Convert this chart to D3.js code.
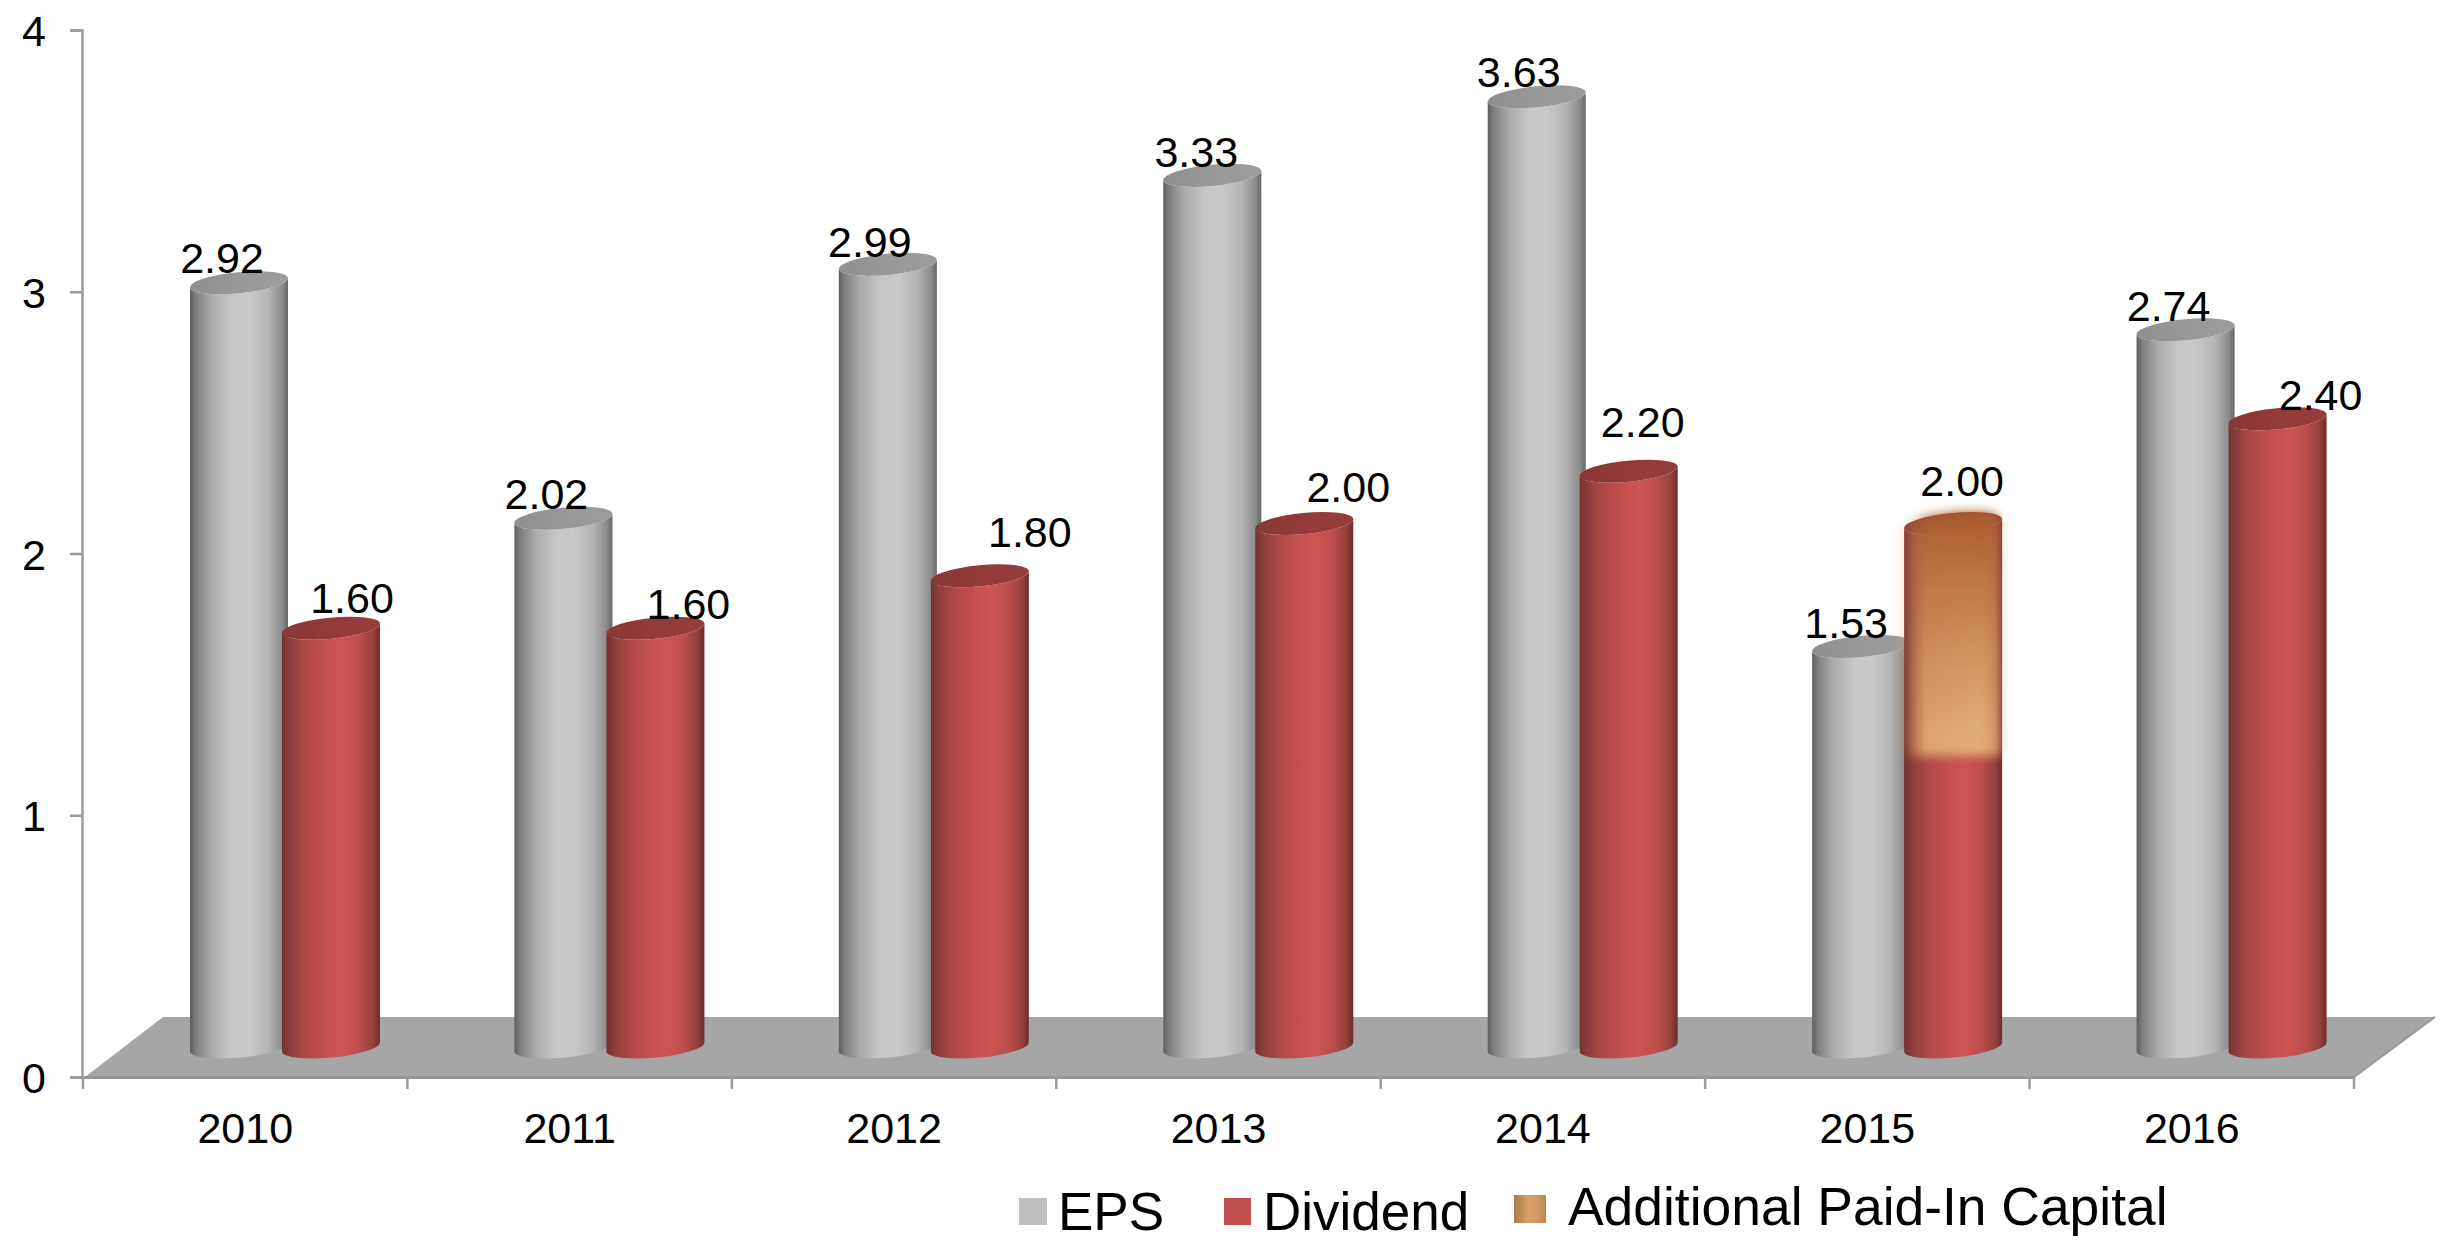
<!DOCTYPE html>
<html>
<head>
<meta charset="utf-8">
<script src="https://cdn.jsdelivr.net/npm/d3@7"></script>
<style>
  html, body { margin: 0; padding: 0; background: #fff; }
  svg { display: block; }
  text { font-family: "Liberation Sans", Arial, sans-serif; fill: #000; }
</style>
</head>
<body>
<script>
// Per-share figures by year
const years = ["2010", "2011", "2012", "2013", "2014", "2015", "2016"];
const eps = [2.92, 2.02, 2.99, 3.33, 3.63, 1.53, 2.74];
const dividend = [1.60, 1.60, 1.80, 2.00, 2.20, 2.00, 2.40];
// Portion of the 2015 payout funded from additional paid-in capital
const capitalYear = "2015";
const capitalFrom = 1.115;
const capitalTo = 2.00;
const yTicks = [0, 1, 2, 3, 4];
const legendNames = ["EPS", "Dividend", "Additional Paid-In Capital"];

// Hand-placed data label offsets from the top centre of each cylinder
const epsLabelNudge = [[-17, -10], [-17, -9], [-18, -7], [-16, -8], [-18, -10], [-15, -9], [-17, -9]];
const dividendLabelNudge = [[21, -15], [33, -9], [50, -29], [44, -22], [14, -34], [9, -28], [43, -9]];

const W = 2446, H = 1241;
const svg = d3.select("body").append("svg").attr("width", W).attr("height", H);
const defs = svg.append("defs");

function hGradient(id, stops) {
  const g = defs.append("linearGradient").attr("id", id)
    .attr("x1", 0).attr("x2", 1).attr("y1", 0).attr("y2", 0);
  stops.forEach(([o, c]) => g.append("stop").attr("offset", o).attr("stop-color", c));
}
hGradient("epsBody", [[0, "#5e5e5e"], [0.06, "#7f7f7f"], [0.22, "#ababab"], [0.42, "#c6c6c6"], [0.6, "#c9c9c9"], [0.8, "#b4b4b4"], [0.94, "#8c8c8c"], [1, "#666"]]);
hGradient("divBody", [[0, "#733230"], [0.08, "#8c3d3a"], [0.25, "#b04a47"], [0.5, "#c8514f"], [0.62, "#cc5553"], [0.8, "#ba4d4a"], [0.93, "#93403d"], [1, "#6f2d2b"]]);
hGradient("epsTop", [[0, "#8f8f8f"], [0.5, "#989898"], [1, "#9c9c9c"]]);
hGradient("divTop", [[0, "#8a3735"], [0.5, "#933b39"], [1, "#963d3b"]]);
hGradient("legendCap", [[0, "#a87a4c"], [0.45, "#d9a06c"], [0.7, "#d49a66"], [1, "#be8450"]]);

const capV = defs.append("linearGradient").attr("id", "capBody")
  .attr("x1", 0).attr("x2", 0).attr("y1", 0).attr("y2", 1);
[[0, "#a65a28"], [0.3, "#bf7a43"], [0.65, "#d39a63"], [0.92, "#e0ae78"], [1, "#e0ae78"]]
  .forEach(([o, c]) => capV.append("stop").attr("offset", o).attr("stop-color", c));

const capFade = defs.append("linearGradient").attr("id", "capFade")
  .attr("x1", 0).attr("x2", 1).attr("y1", 0).attr("y2", 0);
[[0, 0], [0.06, 0.12], [0.22, 0.85], [0.78, 1], [0.92, 0.75], [1, 0.4]]
  .forEach(([o, a]) => capFade.append("stop").attr("offset", o).attr("stop-color", "#fff").attr("stop-opacity", a));

defs.append("filter").attr("id", "capSoft").attr("x", "-20%").attr("y", "-10%").attr("width", "140%").attr("height", "120%")
  .append("feGaussianBlur").attr("stdDeviation", 5);
defs.append("filter").attr("id", "capGlow").attr("x", "-30%").attr("y", "-15%").attr("width", "160%").attr("height", "130%")
  .append("feGaussianBlur").attr("stdDeviation", 7);

// Scales
const axisY = 1077, depth = 30;
const y = d3.scaleLinear().domain([0, 4]).range([axisY, 30]);
const x = d3.scaleBand().domain(years).range([83, 2354]).paddingInner(0).paddingOuter(0);
const barW = 98;
const seriesOffset = { eps: 107, div: 199 };

// Floor plane
const floorBack = axisY - 60;
svg.append("path")
  .attr("d", d3.line()([[x.range()[0] + 2, axisY], [163, floorBack], [2435, floorBack], [x.range()[1], axisY]]) + "Z")
  .attr("fill", "#a6a6a6");
svg.append("path")
  .attr("d", d3.line()([[x.range()[1], axisY], [2435, floorBack]]))
  .attr("stroke", "#969696").attr("stroke-width", 2).attr("fill", "none");

// Axes
const axisColor = "#9c9c9c";
const tickFont = 43;
const yAxis = svg.append("g").attr("transform", "translate(82,0)")
  .call(d3.axisLeft(y).tickValues(yTicks).tickFormat(d3.format("d")).tickSize(12).tickPadding(25));
yAxis.selectAll("path,line").attr("stroke", axisColor).attr("stroke-width", 2.5);
yAxis.selectAll("text").attr("font-size", tickFont).attr("text-anchor", "middle").attr("x", -48)
  .attr("dy", 15.5).style("font-family", '"Liberation Sans"');

const xAxis = svg.append("g").attr("transform", `translate(0,${axisY})`)
  .call(d3.axisBottom(x).tickSize(0).tickPadding(0).tickSizeOuter(0));
xAxis.select("path").attr("stroke", "#969696").attr("stroke-width", 3);
xAxis.selectAll("text").attr("font-size", tickFont).attr("y", 66).attr("dy", 0).style("font-family", '"Liberation Sans"');

svg.append("g").selectAll("line")
  .data(d3.range(years.length + 1))
  .join("line")
  .attr("x1", i => x.range()[0] + i * x.step())
  .attr("x2", i => x.range()[0] + i * x.step())
  .attr("y1", axisY).attr("y2", axisY + 12)
  .attr("stroke", axisColor).attr("stroke-width", 2.5);

// Cylinders: tilted elliptical caps give the perspective look
const rx = barW / 2, ry = 10.5, tilt = 5.5;
const dyEnd = rx * Math.sin(tilt * Math.PI / 180);
const base = axisY - depth;
const yTop = v => y(v) - depth;

function cylinderBody(cx, topY) {
  const l = cx - rx, r = cx + rx;
  return `M${l},${topY + dyEnd}L${l},${base + dyEnd}` +
    `A${rx},${ry} ${-tilt} 0 0 ${r},${base - dyEnd}` +
    `L${r},${topY - dyEnd}` +
    `A${rx},${ry} ${-tilt} 0 1 ${l},${topY + dyEnd}Z`;
}
function cap(cx, topY) {
  const l = cx - rx, r = cx + rx;
  return `M${l},${topY + dyEnd}A${rx},${ry} ${-tilt} 1 1 ${r},${topY - dyEnd}` +
    `A${rx},${ry} ${-tilt} 1 1 ${l},${topY + dyEnd}Z`;
}

const rows = years.map((yr, i) => ({ yr, i, eps: eps[i], div: dividend[i] }));
const groups = svg.append("g").selectAll("g").data(rows).join("g");

groups.append("path")
  .attr("d", d => cylinderBody(x(d.yr) + seriesOffset.eps + rx, yTop(d.eps)))
  .attr("fill", "url(#epsBody)");
groups.append("path")
  .attr("d", d => cap(x(d.yr) + seriesOffset.eps + rx, yTop(d.eps)))
  .attr("fill", "url(#epsTop)");
groups.append("path")
  .attr("d", d => cylinderBody(x(d.yr) + seriesOffset.div + rx, yTop(d.div)))
  .attr("fill", "url(#divBody)");
groups.append("path")
  .attr("d", d => cap(x(d.yr) + seriesOffset.div + rx, yTop(d.div)))
  .attr("fill", "url(#divTop)");

// Additional paid-in capital highlight on the 2015 dividend cylinder
const capCx = x(capitalYear) + seriesOffset.div + rx;
const capL = capCx - rx, capR = capCx + rx;
const capTopY = yTop(capitalTo), capBotY = yTop(capitalFrom);
const capShape =
  `M${capL},${capTopY + dyEnd}` +
  `A${rx},${ry} ${-tilt} 1 1 ${capR},${capTopY - dyEnd}` +
  `L${capR},${capBotY}L${capL},${capBotY}Z`;

const capMask = defs.append("mask").attr("id", "capMask").attr("maskUnits", "userSpaceOnUse")
  .attr("x", capL - 20).attr("y", capTopY - 30).attr("width", barW + 40).attr("height", capBotY - capTopY + 60);
capMask.append("rect")
  .attr("x", capL).attr("width", barW)
  .attr("y", capTopY - 30).attr("height", capBotY - capTopY + 60)
  .attr("fill", "url(#capFade)");

svg.append("path").attr("d", capShape).attr("fill", "#d89a60")
  .attr("opacity", 0.3).attr("filter", "url(#capGlow)");
svg.append("g").attr("mask", "url(#capMask)")
  .append("path").attr("d", capShape).attr("fill", "url(#capBody)")
  .attr("filter", "url(#capSoft)");

// Data labels
const labelFont = 43;
svg.append("g").selectAll("text").data(rows).join("text")
  .attr("x", d => x(d.yr) + seriesOffset.eps + rx + epsLabelNudge[d.i][0])
  .attr("y", d => yTop(d.eps) + epsLabelNudge[d.i][1])
  .attr("text-anchor", "middle").attr("font-size", labelFont)
  .text(d => d.eps.toFixed(2));
svg.append("g").selectAll("text").data(rows).join("text")
  .attr("x", d => x(d.yr) + seriesOffset.div + rx + dividendLabelNudge[d.i][0])
  .attr("y", d => yTop(d.div) + dividendLabelNudge[d.i][1])
  .attr("text-anchor", "middle").attr("font-size", labelFont)
  .text(d => d.div.toFixed(2));

// Legend
const legendLayout = [
  { sx: 1019, sy: 1198, sw: 28, sh: 27, tx: 1058, ty: 1230, size: 53 },
  { sx: 1224, sy: 1198, sw: 27, sh: 27, tx: 1263, ty: 1230, size: 53 },
  { sx: 1514, sy: 1195, sw: 32, sh: 28, tx: 1568, ty: 1225, size: 53.4 }
];
const legendFills = ["#c0c0c0", "#c0504d", "url(#legendCap)"];
const lg = svg.append("g").selectAll("g").data(legendNames).join("g");
lg.append("rect")
  .attr("x", (d, i) => legendLayout[i].sx).attr("y", (d, i) => legendLayout[i].sy)
  .attr("width", (d, i) => legendLayout[i].sw).attr("height", (d, i) => legendLayout[i].sh)
  .attr("fill", (d, i) => legendFills[i]);
lg.append("text")
  .attr("x", (d, i) => legendLayout[i].tx).attr("y", (d, i) => legendLayout[i].ty)
  .attr("font-size", (d, i) => legendLayout[i].size)
  .text(d => d);
</script>
</body>
</html>
